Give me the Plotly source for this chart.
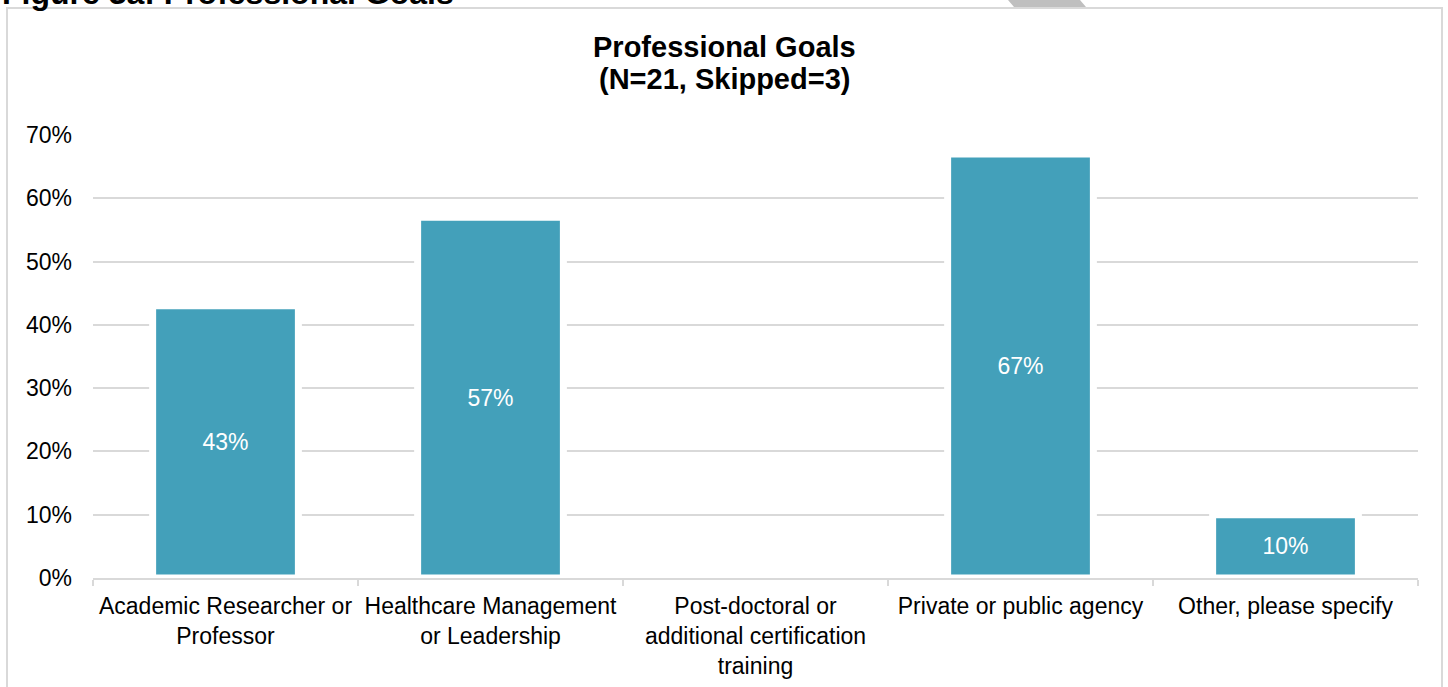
import plotly.graph_objects as go

# Survey responses: share of respondents per professional goal
categories = [
    "Academic Researcher or<br>Professor",
    "Healthcare Management<br>or Leadership",
    "Post-doctoral or<br>additional certification<br>training",
    "Private or public agency",
    "Other, please specify",
]
shares = [0.43, 0.57, 0.0, 0.67, 0.10]
y_ticks = [0, 0.1, 0.2, 0.3, 0.4, 0.5, 0.6, 0.7]
y_tick_text = ["0%", "10%", "20%", "30%", "40%", "50%", "60%", "70%"]

chart_title = "Professional Goals"
chart_subtitle = "(N=21, Skipped=3)"
figure_caption = "Figure 3a: Professional Goals"

W, H = 1448, 687
M_L, M_R, M_T, M_B = 93, 30, 135, 109
PLOT_W = W - M_L - M_R
PLOT_H = H - M_T - M_B


def px_x(px):
    return (px - M_L) / PLOT_W


def px_y(py):
    return (H - M_B - py) / PLOT_H


FONT = "Liberation Sans, Arial, sans-serif"
BAR_COLOR = "#43A0BA"
GRID = "#d9d9d9"

labels = [f"{round(v * 100)}%" if v > 0 else "" for v in shares]

fig = go.Figure(
    go.Bar(
        x=categories,
        y=shares,
        text=labels,
        textposition="inside",
        insidetextanchor="middle",
        textangle=0,
        textfont=dict(family=FONT, size=23, color="white"),
        marker=dict(color=BAR_COLOR, line=dict(color="white", width=7)),
        hoverinfo="skip",
    )
)

fig.update_layout(
    width=W,
    height=H,
    margin=dict(l=M_L, r=M_R, t=M_T, b=M_B, pad=0),
    paper_bgcolor="white",
    plot_bgcolor="white",
    showlegend=False,
    bargap=0.45,
    font=dict(family=FONT, color="#000000"),
    xaxis=dict(
        automargin=False,
        tickangle=0,
        tickson="boundaries",
        ticks="outside",
        ticklen=6,
        tickwidth=1.5,
        tickcolor=GRID,
        showline=True,
        linecolor=GRID,
        linewidth=1.5,
        showgrid=False,
        ticklabelstandoff=7,
        tickfont=dict(family=FONT, size=23, color="#000000"),
        fixedrange=True,
    ),
    yaxis=dict(
        automargin=False,
        range=[0, 0.7],
        tickvals=y_ticks,
        ticktext=y_tick_text,
        showgrid=True,
        gridcolor=GRID,
        gridwidth=1.5,
        zeroline=False,
        showline=False,
        ticks="",
        ticklabelstandoff=20,
        tickfont=dict(family=FONT, size=23, color="#000000"),
        fixedrange=True,
    ),
    annotations=[
        dict(
            text=f"<b>{chart_title}</b>",
            xref="paper", yref="paper",
            x=px_x(724), y=px_y(47),
            xanchor="center", yanchor="middle",
            showarrow=False,
            font=dict(family=FONT, size=29, color="#000000"),
        ),
        dict(
            text=f"<b>{chart_subtitle}</b>",
            xref="paper", yref="paper",
            x=px_x(724), y=px_y(79),
            xanchor="center", yanchor="middle",
            showarrow=False,
            font=dict(family=FONT, size=29, color="#000000"),
        ),
        dict(
            text=f"<b>{figure_caption}</b>",
            xref="paper", yref="paper",
            x=px_x(0), y=px_y(-7),
            xanchor="left", yanchor="middle",
            showarrow=False,
            font=dict(family=FONT, size=32, color="#000000"),
        ),
    ],
    shapes=[
        # outer chart frame
        dict(
            type="rect", xref="paper", yref="paper",
            x0=px_x(7), x1=px_x(1442), y0=px_y(720), y1=px_y(8),
            line=dict(color=GRID, width=2), fillcolor="rgba(0,0,0,0)",
            layer="below",
        ),
        # small grey tab at the top edge
        dict(
            type="path", xref="paper", yref="paper",
            path=(
                f"M {px_x(1008)},{px_y(0)} L {px_x(1080)},{px_y(0)} "
                f"L {px_x(1086)},{px_y(7)} L {px_x(1014)},{px_y(7)} Z"
            ),
            line=dict(width=0), fillcolor="#bfbfbf",
            layer="below",
        ),
    ],
)

fig.write_html("out.html")
